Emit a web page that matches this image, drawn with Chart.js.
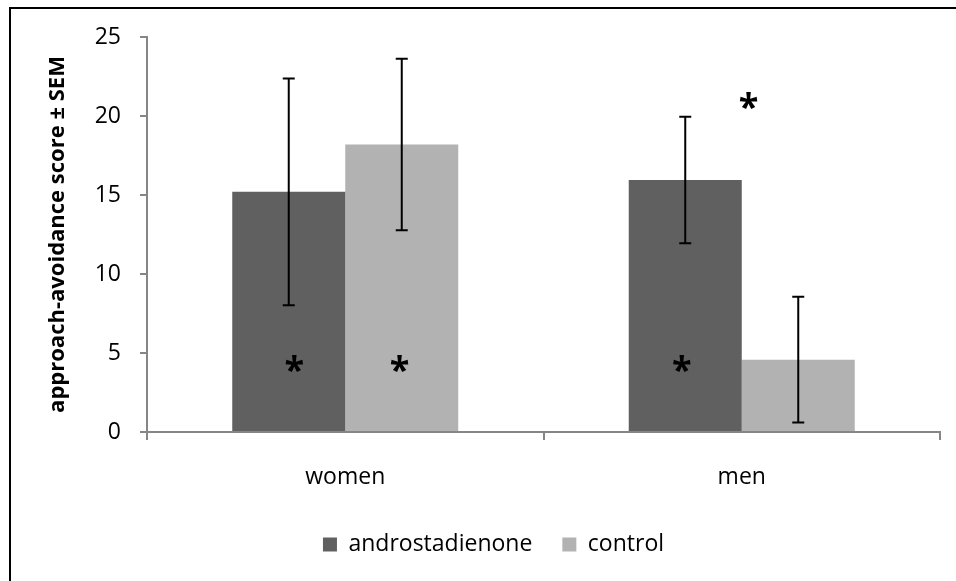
<!DOCTYPE html>
<html>
<head>
<meta charset="utf-8">
<script src="https://cdn.jsdelivr.net/npm/chart.js@4/dist/chart.umd.min.js"></script>
<style>
  html, body { margin: 0; padding: 0; background: #fff; }
  #wrap { position: relative; width: 956px; height: 581px; overflow: hidden; }
  #frame { position: absolute; left: 9px; top: 7px; right: 0; bottom: 0;
           border-top: 2px solid #000; border-left: 2px solid #000; pointer-events: none; }
</style>
</head>
<body>
<div id="wrap">
  <canvas id="chart" width="956" height="581"></canvas>
  <div id="frame"></div>
</div>
<script>
// data
const groups = ['women', 'men'];
const seriesNames = ['androstadienone', 'control'];
const androMeans = [15.2, 15.95];
const controlMeans = [18.2, 4.58];
const androSem = [7.17, 4.0];
const controlSem = [5.43, 3.98];
const yTicks = [0, 5, 10, 15, 20, 25];
// significance stars: dataset, group, y value, shift in bar widths
const stars = [
  [0, 0, 4.3, 0.05],
  [1, 0, 4.3, -0.02],
  [0, 1, 4.3, -0.03],
  [1, 1, 20.95, -0.44]
];

const FONT = "'Open Sans', sans-serif";
const AXIS_GREY = '#868686';

// error bars (± SEM)
const errorBars = {
  id: 'errorBars',
  afterDatasetsDraw(chart) {
    const ctx = chart.ctx;
    const y = chart.scales.y;
    const sems = [androSem, controlSem];
    ctx.save();
    ctx.strokeStyle = '#000';
    ctx.lineWidth = 2;
    chart.data.datasets.forEach((ds, i) => {
      chart.getDatasetMeta(i).data.forEach((bar, j) => {
        const hi = y.getPixelForValue(ds.data[j] + sems[i][j]);
        const lo = y.getPixelForValue(ds.data[j] - sems[i][j]);
        const cap = 6;
        ctx.beginPath();
        ctx.moveTo(bar.x, hi); ctx.lineTo(bar.x, lo);
        ctx.moveTo(bar.x - cap, hi); ctx.lineTo(bar.x + cap, hi);
        ctx.moveTo(bar.x - cap, lo); ctx.lineTo(bar.x + cap, lo);
        ctx.stroke();
      });
    });
    ctx.restore();
  }
};

// asterisks
const starMarks = {
  id: 'starMarks',
  afterDatasetsDraw(chart) {
    const ctx = chart.ctx;
    const y = chart.scales.y;
    ctx.save();
    ctx.fillStyle = '#000';
    ctx.font = "bold 36px " + FONT;
    ctx.textAlign = 'center';
    ctx.textBaseline = 'alphabetic';
    const m = ctx.measureText('*');
    const mid = (m.actualBoundingBoxAscent - m.actualBoundingBoxDescent) / 2;
    stars.forEach(([d, g, v, shift]) => {
      const bar = chart.getDatasetMeta(d).data[g];
      ctx.fillText('*', bar.x + shift * bar.width, y.getPixelForValue(v) + mid);
    });
    ctx.restore();
  }
};

new Chart(document.getElementById('chart'), {
  type: 'bar',
  data: {
    labels: groups,
    datasets: [
      { label: seriesNames[0], data: androMeans, backgroundColor: '#606060' },
      { label: seriesNames[1], data: controlMeans, backgroundColor: '#b2b2b2' }
    ]
  },
  options: {
    responsive: false,
    animation: false,
    events: [],
    categoryPercentage: 0.57,
    barPercentage: 1,
    layout: { padding: { left: 47, right: 16, top: 37, bottom: 15 } },
    plugins: {
      tooltip: { enabled: false },
      legend: {
        position: 'bottom',
        labels: {
          color: '#000',
          font: { family: FONT, size: 23 },
          boxWidth: 14,
          boxHeight: 14,
          padding: 30
        }
      }
    },
    scales: {
      x: {
        ticks: { color: '#000', font: { family: FONT, size: 23 }, padding: 24 },
        grid: { drawOnChartArea: false, color: AXIS_GREY, tickLength: 8, lineWidth: 2, offset: true },
        border: { color: AXIS_GREY, width: 2 },
        afterFit(s) { s.height = 71; }
      },
      y: {
        min: 0,
        max: 25,
        afterBuildTicks(s) { s.ticks = yTicks.map(v => ({ value: v })); },
        ticks: { color: '#000', font: { family: FONT, size: 23 }, padding: 19 },
        grid: { drawOnChartArea: false, color: AXIS_GREY, tickLength: 7, lineWidth: 2 },
        border: { color: AXIS_GREY, width: 2 },
        title: {
          display: true,
          text: 'approach-avoidance score ± SEM',
          color: '#000',
          font: { family: FONT, size: 22, weight: 'bold', lineHeight: 1 },
          padding: 0
        },
        afterFit(s) { s.width = 100; }
      }
    }
  },
  plugins: [errorBars, starMarks]
});
</script>
</body>
</html>
